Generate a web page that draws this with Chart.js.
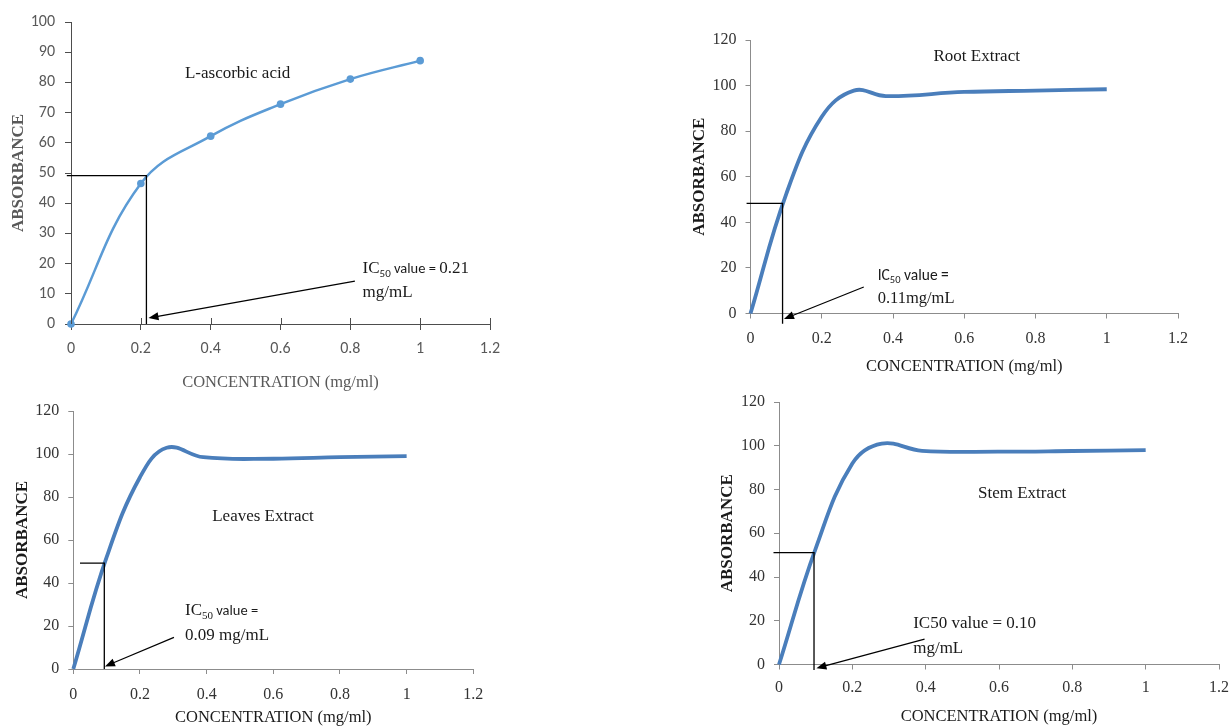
<!DOCTYPE html>
<html>
<head>
<meta charset="utf-8">
<script src="https://cdn.jsdelivr.net/npm/chart.js@4.4.1/dist/chart.umd.min.js"></script>
<style>
html,body{margin:0;padding:0;background:#fff;width:1229px;height:726px;overflow:hidden;position:relative}
canvas{position:absolute}
</style>
</head>
<body>
<canvas id="c1"></canvas>
<canvas id="c2"></canvas>
<canvas id="c3"></canvas>
<canvas id="c4"></canvas>
<script>
// values
const concAsc = [0, 0.2, 0.4, 0.6, 0.8, 1];
const ascorbic = [0, 46.5, 62.2, 72.8, 81.1, 87.2];
const concRoot = [0, 0.1, 0.2, 0.29, 0.38, 0.6, 0.8, 1];
const rootAbs = [0, 52.3, 86.3, 97.8, 95.4, 97.2, 97.8, 98.4];
const concLeaves = [0, 0.1, 0.2, 0.28, 0.39, 0.6, 0.8, 1];
const leavesAbs = [0, 52, 89.2, 102.9, 98.5, 97.8, 98.5, 99];
const concStem = [0, 0.1, 0.2, 0.28, 0.39, 0.6, 0.8, 1];
const stemAbs = [0, 53, 91.9, 101, 97.7, 97.3, 97.6, 98.0];
const xTicks = [0, 0.2, 0.4, 0.6, 0.8, 1, 1.2];
const yTicksAsc = [0, 10, 20, 30, 40, 50, 60, 70, 80, 90, 100];
const yTicksExt = [0, 20, 40, 60, 80, 100, 120];
// IC50 read-offs [concentration, absorbance]
const icAsc = [0.216, 49.1];
const icRoot = [0.090, 48.3];
const icLeaves = [0.093, 49.2];
const icStem = [0.0955, 51.1];

const serif = "'Liberation Serif', 'Times New Roman', serif";
const sans = "Carlito, Lato, 'Open Sans', sans-serif";

function notesPlugin(n) {
  return {
    id: 'notes',
    afterDatasetsDraw(chart) {
      const ctx = chart.ctx, x = chart.scales.x, y = chart.scales.y;
      const px = v => x.getPixelForValue(v), py = v => y.getPixelForValue(v);
      ctx.save();
      if (n.crossTicks) {
        ctx.strokeStyle = n.crossTicks; ctx.lineWidth = 1;
        x.ticks.forEach(t => {
          const xx = Math.round(px(t.value)) + 0.5;
          ctx.beginPath(); ctx.moveTo(xx, chart.chartArea.bottom); ctx.lineTo(xx, chart.chartArea.bottom - 6); ctx.stroke();
        });
      }
      // IC50 guide lines
      const g = n.guide;
      ctx.strokeStyle = '#000'; ctx.fillStyle = '#000'; ctx.lineWidth = 1.3;
      ctx.beginPath();
      ctx.moveTo(px(g.from), py(g.y));
      ctx.lineTo(px(g.x), py(g.y));
      ctx.lineTo(px(g.x), py(g.to));
      ctx.stroke();
      // arrow
      const a = n.arrow;
      const x0 = px(a[0]), y0 = py(a[1]), x1 = px(a[2]), y1 = py(a[3]);
      const ang = Math.atan2(y1 - y0, x1 - x0), hl = 10, hw = 4;
      const c = Math.cos(ang), s = Math.sin(ang);
      ctx.lineWidth = 1.2;
      ctx.beginPath(); ctx.moveTo(x0, y0); ctx.lineTo(x1 - hl * c * 0.8, y1 - hl * s * 0.8); ctx.stroke();
      ctx.beginPath(); ctx.moveTo(x1, y1);
      ctx.lineTo(x1 - hl * c + hw * s, y1 - hl * s - hw * c);
      ctx.lineTo(x1 - hl * c - hw * s, y1 - hl * s + hw * c);
      ctx.closePath(); ctx.fill();
      // title inside the plot
      ctx.fillStyle = '#1a1a1a';
      ctx.textAlign = 'center'; ctx.textBaseline = 'middle';
      ctx.font = n.title.font;
      ctx.fillText(n.title.text, px(n.title.x), py(n.title.y));
      // IC50 label, made of runs of text
      ctx.textAlign = 'left'; ctx.textBaseline = 'alphabetic';
      n.lines.forEach(l => {
        let cx = px(l.x);
        const by = py(l.y);
        l.parts.forEach(p => {
          ctx.font = p[1];
          ctx.fillText(p[0], cx, by + (p[2] || 0));
          cx += ctx.measureText(p[0]).width;
        });
      });
      ctx.restore();
    }
  };
}

function makePanel(p) {
  const padT = 30, padR = 40;
  const cv = document.getElementById(p.id);
  const left = Math.round(p.area.l - p.padL);
  const padL = p.area.l - left;
  const W = Math.round((p.area.r - p.area.l) + padL + padR);
  const H = Math.round((p.area.b - p.area.t) + padT + p.padB);
  cv.width = W; cv.height = H;
  cv.style.left = left + 'px';
  cv.style.top = Math.round(p.area.t - padT) + 'px';
  const noPad = s => { s.paddingLeft = s.paddingRight = s.paddingTop = s.paddingBottom = 0; };
  return new Chart(cv, {
    type: 'line',
    data: {
      datasets: [{
        data: p.xs.map((v, i) => ({ x: v, y: p.ys[i] })),
        borderColor: p.color,
        backgroundColor: p.color,
        borderWidth: p.lineWidth,
        pointRadius: p.pointRadius,
        pointBorderWidth: 0,
        tension: 0.4,
        fill: false,
        clip: false
      }]
    },
    options: {
      responsive: false,
      animation: false,
      layout: { padding: { top: padT, right: W - padL - (p.area.r - p.area.l), left: 0, bottom: 0 } },
      plugins: { legend: { display: false }, tooltip: { enabled: false } },
      scales: {
        x: {
          type: 'linear', min: 0, max: 1.2,
          afterBuildTicks: s => { s.ticks = xTicks.map(v => ({ value: v })); },
          afterFit: s => { s.height = H - padT - (p.area.b - p.area.t); noPad(s); },
          ticks: { callback: v => String(v), font: p.tickFont, color: p.tickColor, padding: p.xTickPad, autoSkip: false, maxRotation: 0 },
          grid: { drawOnChartArea: false, tickLength: p.tickLen, color: p.axisColor },
          border: { color: p.axisColor, width: 1 },
          title: { display: true, text: 'CONCENTRATION (mg/ml)', font: { family: serif, size: 16.5 }, color: p.titleColor, padding: 4 }
        },
        y: {
          min: 0, max: p.yMax,
          afterBuildTicks: s => { s.ticks = p.yTicks.map(v => ({ value: v })); },
          afterFit: s => { s.width = padL; noPad(s); },
          ticks: { font: p.tickFont, color: p.tickColor, padding: p.yTickPad },
          grid: { drawOnChartArea: false, tickLength: p.tickLen, color: p.axisColor },
          border: { color: p.axisColor, width: 1 },
          title: { display: true, text: 'ABSORBANCE', font: { family: serif, size: 17, weight: 'bold' }, color: p.titleColor, padding: 3 }
        }
      }
    },
    plugins: [notesPlugin(p.notes)]
  });
}

const f17 = '17px ' + serif, f16 = '16.5px ' + serif;

makePanel({
  id: 'c1', area: { l: 71, t: 22, r: 490, b: 324 }, padL: 66, padB: 73,
  xs: concAsc, ys: ascorbic, yMax: 100, yTicks: yTicksAsc,
  color: '#5b9bd5', lineWidth: 2.5, pointRadius: 3.8,
  tickFont: { family: sans, size: 16 }, tickColor: '#595959', axisColor: '#4d4d4d', titleColor: '#595959',
  tickLen: 6, xTickPad: 9, yTickPad: 10,
  notes: {
    crossTicks: '#4d4d4d',
    guide: { from: -0.012, x: icAsc[0], y: icAsc[1], to: 0 },
    arrow: [0.813, 14.2, 0.222, 2.0],
    title: { text: 'L-ascorbic acid', x: 0.477, y: 83.1, font: f17 },
    lines: [
      { x: 0.835, y: 17.0, parts: [['IC', f17], ['50', '11px ' + sans, 4], [' value = ', '14.5px ' + sans], ['0.21', f17]] },
      { x: 0.835, y: 9.0, parts: [['mg/mL', f17]] }
    ]
  }
});

makePanel({
  id: 'c2', area: { l: 750.5, t: 40, r: 1178, b: 313.5 }, padL: 64.7, padB: 67.6,
  xs: concRoot, ys: rootAbs, yMax: 120, yTicks: yTicksExt,
  color: '#4a7ebb', lineWidth: 3.8, pointRadius: 0,
  tickFont: { family: serif, size: 16 }, tickColor: '#333', axisColor: '#8c8c8c', titleColor: '#1a1a1a',
  tickLen: 5, xTickPad: 11, yTickPad: 9,
  notes: {
    guide: { from: -0.011, x: icRoot[0], y: icRoot[1], to: -4.5 },
    arrow: [0.318, 11.6, 0.094, -2.4],
    title: { text: 'Root Extract', x: 0.635, y: 112.9, font: f17 },
    lines: [
      { x: 0.357, y: 14.7, parts: [['IC', '15.5px ' + sans], ['50', '10.5px ' + sans, 3], [' value =', '15.5px ' + sans]] },
      { x: 0.357, y: 4.6, parts: [['0.11mg/mL', f16]] }
    ]
  }
});

makePanel({
  id: 'c3', area: { l: 73.3, t: 410.5, r: 473.3, b: 668.5 }, padL: 64.5, padB: 63.1,
  xs: concLeaves, ys: leavesAbs, yMax: 120, yTicks: yTicksExt,
  color: '#4a7ebb', lineWidth: 3.8, pointRadius: 0,
  tickFont: { family: serif, size: 16 }, tickColor: '#333', axisColor: '#8c8c8c', titleColor: '#1a1a1a',
  tickLen: 5, xTickPad: 11, yTickPad: 9,
  notes: {
    guide: { from: 0.02, x: icLeaves[0], y: icLeaves[1], to: 0 },
    arrow: [0.302, 14.7, 0.095, 1.2],
    title: { text: 'Leaves Extract', x: 0.569, y: 70.9, font: f17 },
    lines: [
      { x: 0.335, y: 24.9, parts: [['IC', f17], ['50', '11px ' + serif, 4], [' value =', '14.5px ' + sans]] },
      { x: 0.335, y: 13.3, parts: [['0.09 mg/mL', f17]] }
    ]
  }
});

makePanel({
  id: 'c4', area: { l: 779, t: 402, r: 1219, b: 664.5 }, padL: 65.5, padB: 66,
  xs: concStem, ys: stemAbs, yMax: 120, yTicks: yTicksExt,
  color: '#4a7ebb', lineWidth: 3.8, pointRadius: 0,
  tickFont: { family: serif, size: 16 }, tickColor: '#333', axisColor: '#8c8c8c', titleColor: '#1a1a1a',
  tickLen: 5, xTickPad: 9, yTickPad: 9,
  notes: {
    guide: { from: -0.015, x: icStem[0], y: icStem[1], to: -2.5 },
    arrow: [0.397, 11.6, 0.102, -1.7],
    title: { text: 'Stem Extract', x: 0.663, y: 78.3, font: f17 },
    lines: [
      { x: 0.366, y: 16.5, parts: [['IC50 value = 0.10', f17]] },
      { x: 0.366, y: 5.1, parts: [['mg/mL', f17]] }
    ]
  }
});
</script>
</body>
</html>
